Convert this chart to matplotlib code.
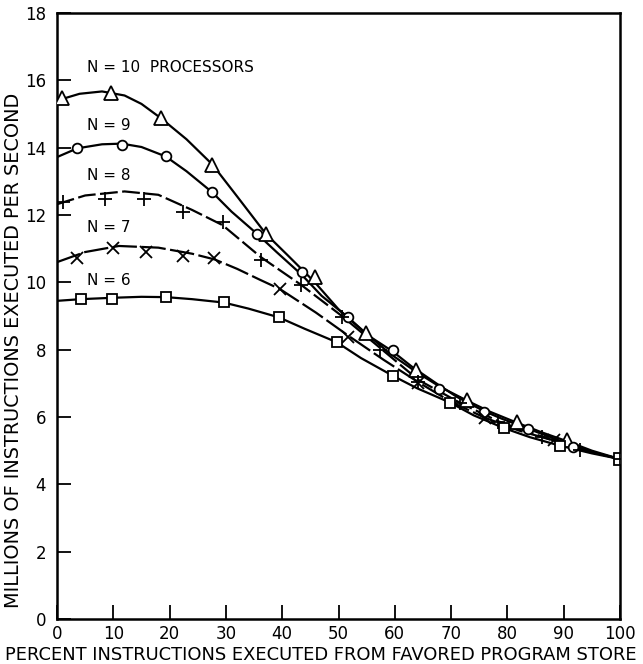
import matplotlib
matplotlib.use("Agg")
import matplotlib.pyplot as plt

# ---------------- data ----------------
x_ticks = [0, 10, 20, 30, 40, 50, 60, 70, 80, 90, 100]
y_ticks = [0, 2, 4, 6, 8, 10, 12, 14, 16, 18]

# N = 10 (triangles, solid)
n10_curve_x = [0, 4, 8, 12, 15, 18.5, 23, 27.6, 32, 37.1, 41, 45.8, 50, 54.8, 59, 63.7, 68, 72.9, 77, 81.7, 86, 90.6, 95, 100]
n10_curve_y = [15.4, 15.6, 15.67, 15.55, 15.3, 14.87, 14.25, 13.5, 12.55, 11.44, 10.8, 10.0, 9.2, 8.5, 7.9, 7.35, 6.9, 6.48, 6.15, 5.83, 5.55, 5.28, 5.0, 4.75]
n10_mark_x = [0.8, 9.6, 18.5, 27.6, 37.1, 45.8, 54.8, 63.7, 72.9, 81.7, 90.6]
n10_mark_y = [15.47, 15.62, 14.87, 13.5, 11.44, 10.16, 8.5, 7.4, 6.51, 5.86, 5.32]

# N = 9 (circles, solid)
n9_curve_x = [0, 3.6, 8, 11.5, 15, 19.3, 23, 27.6, 31, 35.6, 39, 43.5, 47, 51.6, 55, 59.6, 63, 67.8, 71, 75.8, 79, 83.7, 88, 91.6, 96, 100]
n9_curve_y = [13.72, 13.98, 14.1, 14.12, 14.02, 13.74, 13.3, 12.67, 12.1, 11.43, 10.9, 10.22, 9.6, 8.97, 8.45, 7.95, 7.5, 6.95, 6.6, 6.18, 5.95, 5.65, 5.38, 5.15, 4.92, 4.75]
n9_mark_x = [3.6, 11.5, 19.3, 27.6, 35.6, 43.5, 51.6, 59.6, 67.8, 75.8, 83.7, 91.6]
n9_mark_y = [13.98, 14.08, 13.74, 12.67, 11.43, 10.3, 8.97, 7.99, 6.82, 6.16, 5.64, 5.12]

# N = 8 (plus, dashed)
n8_curve_x = [0, 5, 12, 18, 24, 29.4, 36.2, 43.4, 50.6, 57.4, 64.2, 71.6, 78.4, 86.1, 92.9, 100]
n8_curve_y = [12.32, 12.58, 12.7, 12.6, 12.15, 11.7, 10.75, 9.92, 9.0, 8.05, 7.1, 6.42, 5.87, 5.42, 5.04, 4.75]
n8_mark_x = [1.1, 8.5, 15.5, 22.4, 29.4, 36.2, 43.4, 50.6, 57.4, 64.2, 71.6, 78.4, 86.1, 92.9]
n8_mark_y = [12.4, 12.48, 12.47, 12.1, 11.78, 10.65, 9.92, 8.98, 7.99, 7.05, 6.41, 5.86, 5.42, 5.02]

# N = 7 (x, dashed)
n7_curve_x = [0, 5, 11, 18, 24, 28, 32, 36, 39.6, 46, 51.7, 58, 64.2, 70, 76, 82, 88.2, 94, 100]
n7_curve_y = [10.6, 10.9, 11.08, 11.03, 10.85, 10.68, 10.4, 10.08, 9.8, 9.1, 8.42, 7.7, 7.03, 6.45, 5.98, 5.6, 5.3, 5.0, 4.75]
n7_mark_x = [3.5, 10.0, 15.8, 22.4, 27.9, 39.6, 51.7, 64.2, 76.0, 88.2]
n7_mark_y = [10.72, 11.02, 10.9, 10.77, 10.73, 9.8, 8.38, 7.0, 5.96, 5.32]

# N = 6 (squares, solid)
n6_curve_x = [0, 4.2, 9.7, 15, 19.4, 24, 29.6, 34, 39.4, 44, 49.7, 54, 59.7, 64, 69.8, 74, 79.4, 84, 89.3, 95, 100]
n6_curve_y = [9.45, 9.5, 9.54, 9.57, 9.56, 9.5, 9.4, 9.22, 8.96, 8.62, 8.22, 7.75, 7.22, 6.85, 6.43, 6.05, 5.67, 5.4, 5.15, 4.92, 4.75]
n6_mark_x = [4.2, 9.7, 19.4, 29.6, 39.4, 49.7, 59.7, 69.8, 79.4, 89.3]
n6_mark_y = [9.5, 9.5, 9.55, 9.41, 8.96, 8.22, 7.22, 6.43, 5.67, 5.15]

end_x = [100]
end_y = [4.75]

labels = ["N = 10  PROCESSORS", "N = 9", "N = 8", "N = 7", "N = 6"]
label_x = [5.3, 5.3, 5.3, 5.3, 5.3]
label_y = [16.38, 14.66, 13.18, 11.62, 10.04]

x_label = "PERCENT INSTRUCTIONS EXECUTED FROM FAVORED PROGRAM STORE"
y_label = "MILLIONS OF INSTRUCTIONS EXECUTED PER SECOND"

# ---------------- plot ----------------
plt.rcParams['font.family'] = ['DejaVu Sans']
fig = plt.figure(figsize=(6.43, 6.64), dpi=100)
ax = fig.add_axes([57/643, 1 - 619/664, (620 - 57)/643, (619 - 13)/664])

lw = 1.6
series = [
    (n10_curve_x, n10_curve_y, n10_mark_x, n10_mark_y, '-', '^', 9.5, 'white'),
    (n9_curve_x, n9_curve_y, n9_mark_x, n9_mark_y, '-', 'o', 7, 'white'),
    (n8_curve_x, n8_curve_y, n8_mark_x, n8_mark_y, (0, (8, 2)), '+', 10, 'none'),
    (n7_curve_x, n7_curve_y, n7_mark_x, n7_mark_y, (0, (11, 2)), 'x', 8, 'none'),
    (n6_curve_x, n6_curve_y, n6_mark_x, n6_mark_y, '-', 's', 7.5, 'white'),
]
for cx, cy, mx, my, ls, mk, ms, fc in series:
    ax.plot(cx, cy, color='black', lw=lw, linestyle=ls, zorder=2)
    ax.plot(mx, my, linestyle='none', marker=mk, markersize=ms,
            markerfacecolor=fc, markeredgecolor='black', markeredgewidth=1.3, zorder=3)

ax.plot(end_x, end_y, linestyle='none', marker='s', markersize=8,
        markerfacecolor='white', markeredgecolor='black', markeredgewidth=1.3, zorder=4)
ax.plot(end_x, end_y, linestyle='none', marker='+', markersize=8,
        markeredgecolor='black', markeredgewidth=1.3, zorder=5)

for t, lx, ly in zip(labels, label_x, label_y):
    ax.text(lx, ly, t, fontsize=11, va='center', ha='left')

ax.set_xlim(0, 100)
ax.set_ylim(0, 18)
ax.set_xticks(x_ticks)
ax.set_yticks(y_ticks)
ax.set_xticklabels([str(v) for v in x_ticks], fontsize=12)
ax.set_yticklabels([str(v) for v in y_ticks], fontsize=12)
ax.tick_params(axis='both', direction='in', length=10, width=1.3, color='black')
ax.tick_params(axis='x', pad=4)
ax.tick_params(axis='y', pad=8)
for s in ax.spines.values():
    s.set_linewidth(1.8)
    s.set_color('black')

fig.text(321/643, 1 - 655/664, x_label, fontsize=12.85, ha='center', va='center')
fig.text(14/643, 1 - 350/664, y_label, fontsize=13.9, ha='center', va='center', rotation=90)

fig.savefig("out.png", dpi=100)
